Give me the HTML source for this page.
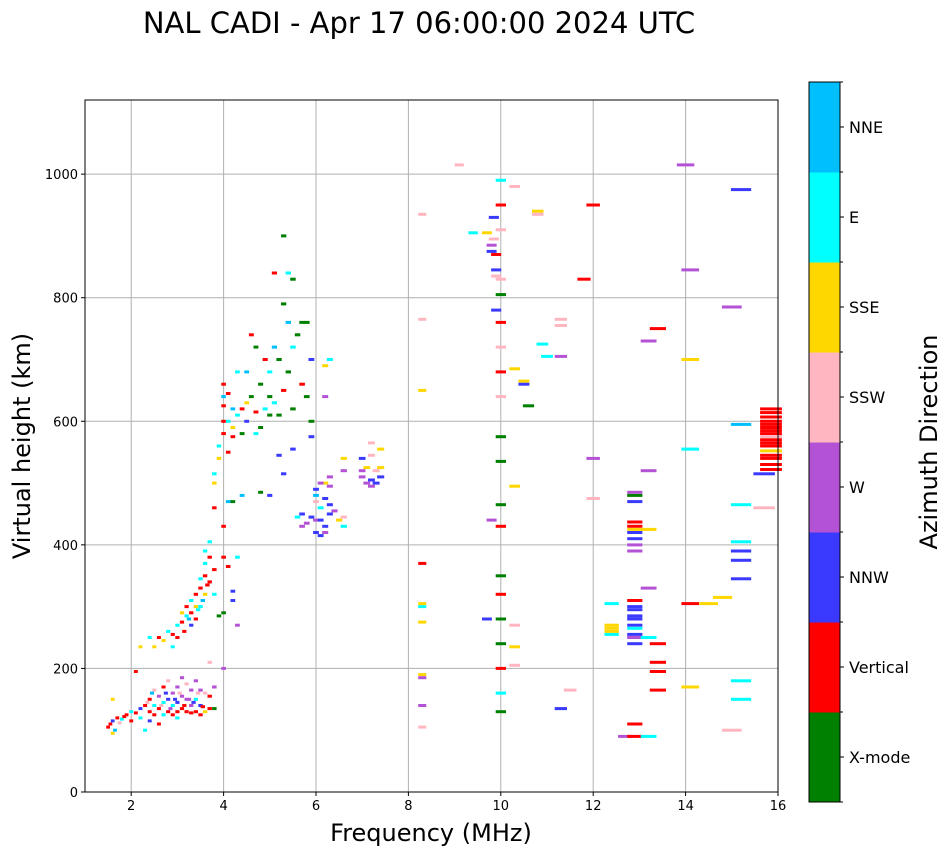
<!DOCTYPE html>
<html><head><meta charset="utf-8">
<style>
html,body{margin:0;padding:0;background:#fff;}
svg{display:block;font-family:"DejaVu Sans","Liberation Sans",sans-serif;}
</style></head>
<body>
<svg id="chart" width="951" height="856" viewBox="0 0 951 856" xmlns="http://www.w3.org/2000/svg">
<text x="419" y="33" font-size="29" text-anchor="middle">NAL CADI - Apr 17 06:00:00 2024 UTC</text>
<g id="grid"></g>
<g id="marks"></g>
<rect x="85" y="100" width="693" height="692" fill="none" stroke="#000" stroke-width="1"/>
<g id="axes"></g>
<text x="431" y="841" font-size="24" text-anchor="middle">Frequency (MHz)</text>
<text transform="translate(30,446) rotate(-90)" font-size="24" text-anchor="middle">Virtual height (km)</text>
<g id="cbar"></g>
<text transform="translate(937,442) rotate(-90)" font-size="24" text-anchor="middle">Azimuth Direction</text>
</svg>
<script>
const dirNames = ["X-mode","Vertical","NNW","W","SSW","SSE","E","NNE"];
const dirColors = ["#008000","#ff0000","#3a3aff","#b452d6","#ffb6c1","#ffd700","#00ffff","#00bfff"];
const xTicks = [2,4,6,8,10,12,14,16];
const yTicks = [0,200,400,600,800,1000];
const freq = [
1.5,1.6,1.6,1.7,1.8,1.9,2.0,2.0,2.1,2.2,2.2,2.3,2.3,2.4,2.4,2.5,2.5,2.5,2.6,2.6,2.7,2.7,2.7,2.8,2.8,2.8,2.9,2.9,2.9,3.0,3.0,3.0,3.1,3.1,3.1,3.2,3.2,3.2,3.3,3.3,3.3,3.4,3.4,3.4,3.5,3.5,3.6,3.6,3.7,3.8,3.8,2.1,1.6,2.6,3.0,2.4,3.5,3.7,1.55,1.65,1.75,1.85,2.35,2.45,2.65,2.75,2.85,2.95,3.05,3.15,3.25,3.35,3.45,3.55,
2.5,2.6,2.7,2.8,2.9,3.0,3.0,3.1,3.1,3.2,3.2,3.3,3.3,3.4,3.4,3.4,3.5,3.5,3.5,3.6,3.6,3.6,3.6,3.7,3.7,3.7,3.8,3.8,2.4,2.2,2.9,3.3,3.9,4.0,4.2,4.2,4.3,4.0,3.7,4.1,3.55,3.65,3.45,3.25,3.15,
3.8,3.8,3.8,3.9,3.9,4.0,4.0,4.0,4.0,4.0,4.0,4.0,4.1,4.1,4.1,4.2,4.2,4.2,4.2,4.3,4.3,4.4,4.4,4.5,4.5,4.6,4.6,4.7,4.7,4.8,4.8,4.9,4.9,5.0,5.0,5.0,5.1,5.1,5.2,5.2,5.3,5.3,5.3,5.4,5.4,5.5,5.5,5.5,5.6,5.7,5.7,5.8,5.8,5.9,5.0,4.8,5.2,5.3,5.5,4.4,4.5,4.7,5.4,5.1,6.3,6.2,6.2,5.9,4.1,4.3,
5.9,6.0,6.0,5.7,5.8,5.9,6.0,6.1,6.1,6.2,6.2,6.2,6.3,6.3,6.3,6.1,6.0,6.4,6.5,6.6,6.6,6.6,6.6,5.6,5.7,6.0,6.1,6.2,6.3,
7.0,7.0,7.1,7.1,7.2,7.2,7.2,7.3,7.3,7.4,7.4,7.4,7.0,7.2,
8.3,8.3,8.3,8.3,8.3,8.3,8.3,8.3,8.3,8.3,8.3,
9.1,9.4,9.7,9.7,9.8,9.8,9.8,9.85,9.85,9.9,9.9,9.9,9.9,
10.0,10.0,10.0,10.0,10.0,10.0,10.0,10.0,10.0,10.0,
10.0,10.0,10.0,10.0,10.0,10.0,10.0,10.0,10.0,10.0,
10.3,10.3,10.3,10.3,10.3,10.3,10.5,10.5,10.6,10.8,10.8,11.0,10.9,11.3,11.3,11.3,11.3,11.5,11.8,12.0,12.0,12.0,12.4,12.4,12.4,12.4,12.4,12.7,
12.9,12.9,12.9,12.9,12.9,12.9,12.9,12.9,12.9,12.9,
12.9,12.9,12.9,12.9,12.9,12.9,12.9,12.9,12.9,12.9,
12.9,12.9,
13.2,13.2,13.2,13.2,13.2,13.2,13.4,13.4,13.4,13.4,13.4,14.0,14.1,14.1,14.1,14.1,14.1,14.5,14.8,15.0,15.0,15.2,15.2,15.2,15.2,15.2,15.2,15.2,15.2,15.2,15.7,15.7,
15.85,15.85,15.85,15.85,15.85,15.85,15.85,15.85,15.85,15.85,15.85,15.85,15.85,15.85,15.85,15.85,15.85
];
const height = [
105,95,115,120,118,125,130,115,128,135,120,140,100,150,130,165,140,125,155,135,170,145,125,180,150,130,160,140,125,170,145,130,185,155,135,175,150,130,165,140,128,180,150,130,165,140,160,130,135,170,135,195,150,110,120,115,125,155,110,100,112,122,145,160,140,160,135,150,160,140,150,145,160,138,
235,250,245,260,255,270,250,275,290,285,300,290,310,300,320,280,330,300,345,350,370,320,390,380,405,340,360,320,250,235,235,270,285,290,325,310,380,200,210,365,310,335,295,280,260,
460,500,515,540,560,580,600,625,640,660,380,430,550,600,645,575,590,620,470,610,680,580,620,600,630,640,740,580,615,590,660,620,700,610,640,680,630,720,700,610,650,790,900,680,760,620,720,830,740,660,760,640,760,700,480,485,545,515,555,480,680,720,840,840,700,690,640,600,470,270,
575,490,440,450,435,445,420,415,460,430,475,500,450,510,495,500,470,455,440,430,520,540,445,445,430,480,440,420,465,
520,510,500,525,505,545,565,520,500,525,555,510,540,495,
935,765,650,370,300,305,275,190,185,140,105,
1015,905,905,280,440,885,875,895,930,845,835,780,870,
990,950,910,830,805,760,720,680,640,575,
535,465,430,350,320,280,240,200,160,130,
980,685,495,270,235,205,660,665,625,940,935,705,725,765,755,705,135,165,830,950,540,475,305,270,255,265,260,90,
485,480,470,430,420,410,400,390,310,300,
295,285,280,270,265,255,250,240,110,90,
437,425,
730,520,425,330,250,90,750,240,210,195,165,1015,845,700,555,305,170,305,315,785,100,975,595,465,405,390,375,345,180,150,515,460,
620,614,607,600,595,590,585,580,575,570,565,560,552,545,540,530,522
];
const dir = [
1,5,2,1,6,1,6,1,1,2,6,1,6,1,1,4,6,1,3,1,1,6,6,4,2,1,3,6,1,3,2,1,3,3,1,4,3,1,3,3,1,3,6,1,3,2,4,5,1,3,0,1,5,1,6,2,1,1,1,7,4,1,4,7,4,2,3,2,4,1,3,2,4,1,
5,1,5,6,1,6,1,1,5,6,1,1,6,5,1,1,1,6,6,1,6,5,6,1,6,1,1,6,6,5,6,2,0,0,2,2,6,3,4,1,7,1,6,7,1,
1,5,6,5,6,1,1,1,7,1,1,1,1,6,1,1,5,7,0,6,6,0,1,2,5,0,1,6,1,0,0,6,1,0,0,6,6,7,0,0,1,0,0,0,7,0,6,0,0,1,0,0,0,2,2,0,2,2,2,7,7,0,6,1,6,5,3,0,7,3,
2,2,3,2,3,2,2,2,6,2,2,5,2,3,3,3,4,3,5,6,3,5,4,6,3,7,2,3,2,
3,3,3,5,2,4,4,4,2,5,5,2,2,3,
4,4,5,1,6,5,5,5,3,3,4,
4,6,5,2,3,3,2,4,2,2,4,2,1,
6,1,4,4,0,1,4,1,4,0,
0,0,1,0,1,0,0,1,6,0,
4,5,5,4,5,4,2,5,0,5,4,6,6,4,4,3,2,4,1,1,3,4,6,5,6,5,5,3,
3,0,2,1,2,2,3,3,1,2,
2,2,2,2,6,2,3,2,1,1,
1,5,
3,3,5,3,6,6,1,1,1,1,1,3,3,5,6,1,5,5,5,3,4,2,7,6,6,2,2,2,6,6,2,4,
1,1,1,1,1,1,1,1,4,1,1,1,5,1,1,1,1
];

const NS="http://www.w3.org/2000/svg";
const X0=85,X1=778,Y0=792,Y1=100,FMIN=1,FMAX=16,HMIN=0,HMAX=1120;
function xs(f){return X0+(f-FMIN)/(FMAX-FMIN)*(X1-X0);}
function ys(h){return Y0-(h-HMIN)/(HMAX-HMIN)*(Y0-Y1);}
function binW(f){return 0.08+0.0009*Math.pow(f,2.2);}
function mk(tag,attrs,parent){const e=document.createElementNS(NS,tag);for(const k in attrs)e.setAttribute(k,attrs[k]);parent.appendChild(e);return e;}

const grid=document.getElementById('grid'),axes=document.getElementById('axes');
xTicks.forEach(t=>{
  const x=xs(t);
  if(t<FMAX){const g=mk('line',{x1:x,x2:x,y1:Y1,y2:Y0,stroke:'#b0b0b0','stroke-width':1},grid);
  
  }
  mk('line',{x1:x,x2:x,y1:Y0,y2:Y0+4,stroke:'#000'},axes);
  const tl=mk('text',{x:x,y:Y0+18,'font-size':13,'text-anchor':'middle'},axes);
  tl.textContent=t;
  
  
});
yTicks.forEach(t=>{
  const y=ys(t);
  if(t>HMIN){const g=mk('line',{x1:X0,x2:X1,y1:y,y2:y,stroke:'#b0b0b0','stroke-width':1},grid);
  
  }
  mk('line',{x1:X0-4,x2:X0,y1:y,y2:y,stroke:'#000'},axes);
  const tl=mk('text',{x:X0-7,y:y+5,'font-size':13,'text-anchor':'end'},axes);
  tl.textContent=t;
  
  
});

const marks=document.getElementById('marks');
const n=Math.min(freq.length,height.length,dir.length);
for(let i=0;i<n;i++){
  const f=freq[i],h=height[i],w=binW(f),d=dir[i]|0;
  const x=xs(f-w/2),x2=xs(f+w/2);
  const r=mk('rect',{x:x.toFixed(1),y:(ys(h)-1.5).toFixed(1),width:(x2-x).toFixed(1),height:3,fill:dirColors[d]},marks);
  
  
}

const cb=document.getElementById('cbar');
const CX=809,CW=31,CT=82,CB=802,seg=(CB-CT)/dirNames.length;
dirNames.forEach((nm,i)=>{
  const yTop=CB-(i+1)*seg;
  const r=mk('rect',{x:CX,y:yTop,width:CW,height:seg+0.5,fill:dirColors[i]},cb);
  
  
  const yc=yTop+seg/2;
  mk('line',{x1:CX+CW,x2:CX+CW+4,y1:yc,y2:yc,stroke:'#000'},cb);
  const t=mk('text',{x:CX+CW+9,y:yc+6,'font-size':16},cb);
  t.textContent=nm;
  
  
});
for(let i=0;i<=dirNames.length;i++){const y=CB-i*seg;mk('line',{x1:CX+CW,x2:CX+CW+3,y1:y,y2:y,stroke:'#000'},cb);}
mk('rect',{x:CX,y:CT,width:CW,height:CB-CT,fill:'none',stroke:'#000'},cb);
</script>
</body></html>
